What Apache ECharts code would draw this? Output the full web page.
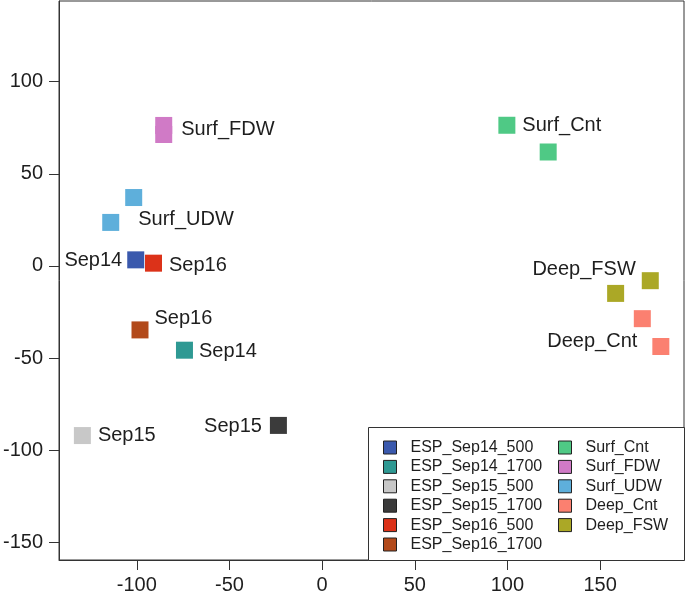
<!DOCTYPE html>
<html>
<head>
<meta charset="utf-8">
<script src="https://cdn.jsdelivr.net/npm/echarts@6/dist/echarts.min.js"></script>
<style>html,body{margin:0;padding:0;background:#fff;}#c{width:685px;height:595px;}</style>
</head>
<body>
<div id="c"></div>
<script>
// ---- data ----
var seriesNames = ['ESP_Sep14_500','ESP_Sep14_1700','ESP_Sep15_500','ESP_Sep15_1700','ESP_Sep16_500','ESP_Sep16_1700',
                   'Surf_Cnt','Surf_FDW','Surf_UDW','Deep_Cnt','Deep_FSW'];
var sep14_500_x = [-100.6],  sep14_500_y = [3.3];
var sep14_1700_x = [-74.3],  sep14_1700_y = [-45.7];
var sep15_500_x = [-129.4],  sep15_500_y = [-92.0];
var sep15_1700_x = [-23.6],  sep15_1700_y = [-86.5];
var sep16_500_x = [-91.0],   sep16_500_y = [1.5];
var sep16_1700_x = [-98.3],  sep16_1700_y = [-34.7];
var surfCnt_x = [99.7, 122.0],   surfCnt_y = [76.3, 61.8];
var surfFDW_x = [-85.5, -85.5],  surfFDW_y = [76.2, 71.3];
var surfUDW_x = [-101.7, -114.1], surfUDW_y = [37.1, 23.6];
var deepCnt_x = [172.8, 182.8],  deepCnt_y = [-28.6, -43.7];
var deepFSW_x = [177.1, 158.4],  deepFSW_y = [-8.0, -14.9];
var labelTexts = ['Sep14','Sep14','Sep15','Sep15','Sep16','Sep16','Surf_Cnt','Surf_FDW','Surf_UDW','Deep_Cnt','Deep_FSW'];
var xTicks = [-100, -50, 0, 50, 100, 150];
var yTicks = [-150, -100, -50, 0, 50, 100];

// ---- styles ----
var colors = ['#3a59ad','#2e9993','#c8c8c8','#3b3b3b','#dc3219','#b24a1b',
              '#4fc985','#d07ac6','#5eafdb','#fb8070','#aba826'];
var xs = [sep14_500_x, sep14_1700_x, sep15_500_x, sep15_1700_x, sep16_500_x, sep16_1700_x, surfCnt_x, surfFDW_x, surfUDW_x, deepCnt_x, deepFSW_x];
var ys = [sep14_500_y, sep14_1700_y, sep15_500_y, sep15_1700_y, sep16_500_y, sep16_1700_y, surfCnt_y, surfFDW_y, surfUDW_y, deepCnt_y, deepFSW_y];
// which point carries the label, where
var labelCfg = [
  {i:0, pos:'left',  d:5,  off:[0,1]},
  {i:0, pos:'right', d:6,  off:[0,1]},
  {i:0, pos:'right', d:7,  off:[0,0]},
  {i:0, pos:'left',  d:8,  off:[0,1.5]},
  {i:0, pos:'right', d:7,  off:[0,2]},
  {i:0, pos:'right', d:6,  off:[0,-11]},
  {i:0, pos:'right', d:7,  off:[0,0]},
  {i:0, pos:'right', d:9,  off:[0,4]},
  {i:1, pos:'right', d:19, off:[0,-3]},
  {i:1, pos:'left',  d:15, off:[0,-5.5]},
  {i:0, pos:'left',  d:6,  off:[0,-11]}
];
var FONT = '"Liberation Sans", Helvetica, Arial, sans-serif';

var series = seriesNames.map(function (name, s) {
  var data = xs[s].map(function (x, k) {
    var item = {value: [x, ys[s][k]]};
    if (k === labelCfg[s].i) {
      item.label = {show: true, formatter: labelTexts[s], position: labelCfg[s].pos,
        distance: labelCfg[s].d, offset: labelCfg[s].off,
        color: '#1e1e1e', fontSize: 20, fontFamily: FONT};
    }
    return item;
  });
  return {
    name: name, type: 'scatter', symbol: 'rect', symbolSize: 17,
    itemStyle: {color: colors[s], borderWidth: 0, opacity: 1},
    emphasis: {disabled: true},
    data: data, z: 2
  };
});

function legendCfg(names, left) {
  return {
    data: names, orient: 'vertical', left: left, top: 439.5, z: 5,
    icon: 'rect', itemWidth: 13, itemHeight: 13, itemGap: 3.4,
    padding: 0, selectedMode: false,
    itemStyle: {borderColor: '#222', borderWidth: 1},
    textStyle: {fontSize: 16, lineHeight: 16, color: '#1e1e1e', fontFamily: FONT, padding: [0, 0, 0, 9]}
  };
}

var chart = echarts.init(document.getElementById('c'), null, {renderer: 'canvas'});
chart.setOption({
  animation: false,
  backgroundColor: '#fff',
  grid: {left: 58, right: 1, top: 1, bottom: 35, show: true, borderColor: '#333', borderWidth: 1, backgroundColor: 'transparent'},
  xAxis: {
    type: 'value', min: -142, max: 195.3,
    splitLine: {show: false},
    axisLine: {show: true, onZero: false, lineStyle: {color: '#333', width: 1}},
    axisTick: {show: true, length: 10, lineStyle: {color: '#333'}, customValues: xTicks},
    axisLabel: {customValues: xTicks, margin: 15, fontSize: 20, color: '#1e1e1e', fontFamily: FONT}
  },
  yAxis: {
    type: 'value', min: -159.5, max: 143.7,
    splitLine: {show: false},
    axisLine: {show: true, onZero: false, lineStyle: {color: '#333', width: 1}},
    axisTick: {show: true, length: 10, lineStyle: {color: '#333'}, customValues: yTicks},
    axisLabel: {customValues: yTicks, margin: 16, fontSize: 20, color: '#1e1e1e', fontFamily: FONT}
  },
  legend: [legendCfg(seriesNames.slice(0, 6), 383), legendCfg(seriesNames.slice(6), 558)],
  graphic: [{
    type: 'rect', z: 4, silent: true,
    shape: {x: 368.5, y: 427.5, width: 316, height: 133},
    style: {fill: '#fff', stroke: '#333', lineWidth: 1}
  }],
  series: series
});
</script>
</body>
</html>
